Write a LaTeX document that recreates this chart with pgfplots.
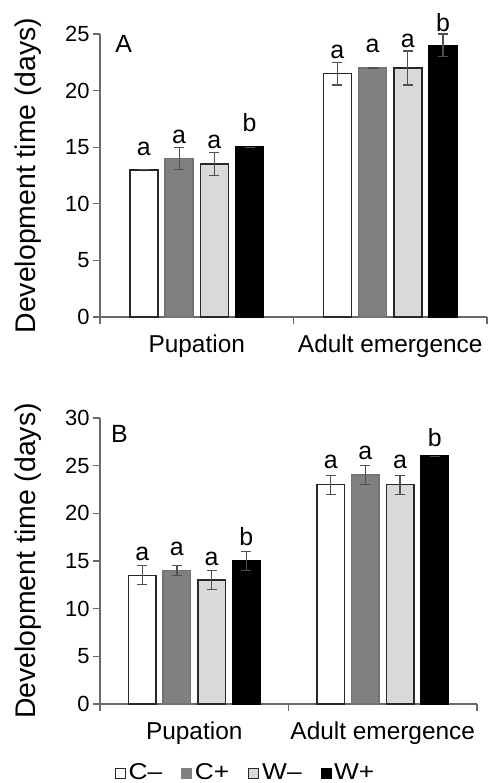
\documentclass[border=0pt]{standalone}
\usepackage{pgfplots}
\pgfplotsset{compat=1.18}
\usepackage{pgfplotstable}
\usepackage{fontspec}
\setmainfont{Liberation Sans}
\newfontfamily\legfont[FakeStretch=1.15]{Liberation Sans}
\definecolor{axgray}{RGB}{105,105,105}
\definecolor{errgray}{RGB}{80,80,80}
\definecolor{cplus}{RGB}{128,128,128}
\definecolor{wminus}{RGB}{217,217,217}
\definecolor{edge}{RGB}{40,40,40}

% Panel A
\pgfplotstableread{
x y e
1 13   0
2 21.5 1
}\AcMinus
\pgfplotstableread{
x y e
1 14 1
2 22 0
}\AcPlus
\pgfplotstableread{
x y e
1 13.5 1
2 22   1.5
}\AwMinus
\pgfplotstableread{
x y e
1 15 0
2 24 1
}\AwPlus
\pgfplotstableread{
x y l
0.727 14.3 a
0.909 15.3 a
1.091 14.85 a
1.273 16.37 b
1.727 22.85 a
1.909 23.35 a
2.091 23.8 a
2.273 25.26 b
}\Aletters
% Panel B
\pgfplotstableread{
x y e
1 13.5 1
2 23   1
}\BcMinus
\pgfplotstableread{
x y e
1 14 0.5
2 24 1
}\BcPlus
\pgfplotstableread{
x y e
1 13 1
2 23 1
}\BwMinus
\pgfplotstableread{
x y e
1 15 1
2 26 0
}\BwPlus
\pgfplotstableread{
x y l
0.724 15.1 a
0.908 15.6 a
1.092 14.57 a
1.276 16.67 b
1.724 24.7 a
1.908 25.65 a
2.092 24.7 a
2.276 26.97 b
}\Bletters

\pgfplotsset{
  myaxis/.style={
    scale only axis,
    axis x line=bottom, axis y line=left,
    axis line style={-, axgray, line width=1.2bp},
    every tick/.style={axgray, line width=1.2bp},
    tick align=outside,
    major tick length=7bp, minor tick length=7bp,
    xmin=0.5, xmax=2.5,
    xtick={1,2}, xticklabels={Pupation, Adult emergence},
    major x tick style={draw=none},
    minor xtick={0.5,1.5,2.5},
    ymin=0,
    /pgf/number format/assume math mode=true,
    tick label style={font=\fontsize{22}{26}\selectfont, black},
    xticklabel style={font=\fontsize{24.5}{28}\selectfont, yshift=-7bp},
    ylabel={Development time (days)},
    ylabel style={font=\fontsize{28.5}{30}\selectfont, anchor=center},
    clip=false,
  },
  barbase/.style={ybar, line width=1.5bp, bar shift=#1,
    error bars/y dir=both, error bars/y explicit,
    error bars/error bar style={errgray, line width=1.2bp, xshift=#1},
    error bars/error mark options={errgray, line width=1.2bp, mark size=5bp, rotate=90}},
  letters/.style={only marks, mark=none, nodes near coords, point meta=explicit symbolic,
    nodes near coords style={anchor=base, inner sep=0pt, font=\fontsize{25}{28}\selectfont}},
  sqleg/.style={legend image code/.code={\draw[##1] (0bp,-6bp) rectangle (10bp,4bp);}},
}

\begin{document}
\begin{tikzpicture}
\useasboundingbox (0,0) rectangle (488bp,783bp);
% ---- Panel A ----
\begin{axis}[myaxis, at={(100bp,466bp)}, anchor=south west,
  width=387bp, height=283bp, ymax=25, ytick={0,5,...,25},
  ylabel style={at={(axis description cs:-0.186,0.5)}}]
\addplot[barbase=-52.8bp, bar width=28bp, fill=white, draw=edge] table[x=x,y=y,y error=e] {\AcMinus};
\addplot[barbase=-17.6bp, bar width=28bp, fill=cplus, draw=cplus!90!black] table[x=x,y=y,y error=e] {\AcPlus};
\addplot[barbase=17.6bp, bar width=28bp, fill=wminus, draw=edge] table[x=x,y=y,y error=e] {\AwMinus};
\addplot[barbase=52.8bp, bar width=28bp, fill=black, draw=black] table[x=x,y=y,y error=e] {\AwPlus};
\addplot[letters] table[x=x,y=y,meta=l] {\Aletters};
\node[anchor=north west, inner sep=0pt, font=\fontsize{25}{28}\selectfont] at (axis description cs:0.039,0.995) {A};
\end{axis}
% ---- Panel B ----
\begin{axis}[myaxis, at={(100bp,79bp)}, anchor=south west,
  width=377bp, height=286bp, ymax=30, ytick={0,5,...,30},
  ylabel style={at={(axis description cs:-0.191,0.5)}},
  legend columns=4,
  legend style={at={(axis description cs:0.386,-0.238)}, anchor=center, draw=none,
    font=\legfont\fontsize{23}{26}\selectfont, inner sep=0pt,
    /tikz/every even column/.append style={column sep=17bp},
    /tikz/every odd column/.append style={column sep=1bp}},
  ]
\addplot[barbase=-52bp, bar width=27.5bp, fill=white, draw=edge, forget plot] table[x=x,y=y,y error=e] {\BcMinus};
\addplot[barbase=-17.3bp, bar width=27.5bp, fill=cplus, draw=cplus!90!black, forget plot] table[x=x,y=y,y error=e] {\BcPlus};
\addplot[barbase=17.3bp, bar width=27.5bp, fill=wminus, draw=edge, forget plot] table[x=x,y=y,y error=e] {\BwMinus};
\addplot[barbase=52bp, bar width=27.5bp, fill=black, draw=black, forget plot] table[x=x,y=y,y error=e] {\BwPlus};
\addplot[letters, forget plot] table[x=x,y=y,meta=l] {\Bletters};
\node[anchor=north west, inner sep=0pt, font=\fontsize{25}{28}\selectfont] at (axis description cs:0.029,0.976) {B};
\addlegendimage{sqleg, fill=white, draw=edge, line width=1bp}
\addlegendentry{C–}
\addlegendimage{sqleg, fill=cplus, draw=cplus}
\addlegendentry{C+}
\addlegendimage{sqleg, fill=wminus, draw=edge, line width=1bp}
\addlegendentry{W–}
\addlegendimage{sqleg, fill=black, draw=black}
\addlegendentry{W+}
\end{axis}
\end{tikzpicture}
\end{document}
